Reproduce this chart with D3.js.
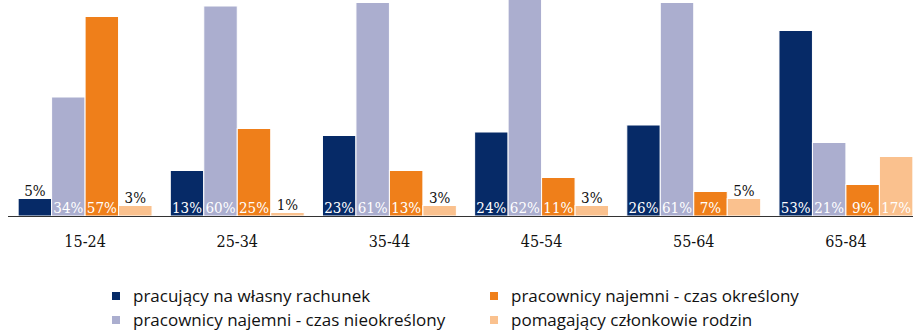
<!DOCTYPE html>
<html>
<head>
<meta charset="utf-8">
<script src="https://cdn.jsdelivr.net/npm/d3@7"></script>
<style>
  body { margin: 0; background: #fff; }
  .val { font-family: "DejaVu Serif Condensed", "DejaVu Serif", serif; font-size: 15px; }
  .cat { font-family: "DejaVu Serif Condensed", "DejaVu Serif", serif; font-size: 16px; fill: #111; }
  .leg { font-family: "Open Sans", "DejaVu Sans", sans-serif; font-size: 17px; fill: #111; }
</style>
</head>
<body>
<script>
var groups = ["15-24", "25-34", "35-44", "45-54", "55-64", "65-84"];
var seriesNames = [
  "pracujący na własny rachunek",
  "pracownicy najemni - czas nieokreślony",
  "pracownicy najemni - czas określony",
  "pomagający członkowie rodzin"
];
var colors = ["#062a67", "#abaecf", "#ef7f1a", "#fac18e"];

var selfEmployed = [5, 13, 23, 24, 26, 53];
var permanent = [34, 60, 61, 62, 61, 21];
var fixedTerm = [57, 25, 13, 11, 7, 9];
var family = [3, 1, 3, 3, 5, 17];

var values = [selfEmployed, permanent, fixedTerm, family];

var width = 913, height = 331, baseY = 216;

var svg = d3.select("body").append("svg")
  .attr("width", width)
  .attr("height", height);

var x0 = d3.scaleBand()
  .domain(groups)
  .range([9, 922])
  .paddingInner(0.12)
  .paddingOuter(0.06);

var x1 = d3.scaleBand()
  .domain(d3.range(4))
  .range([0, x0.bandwidth()]);

var y = d3.scaleLinear()
  .domain([0, 10])
  .range([baseY, baseY - 35]);

var data = [];
groups.forEach(function(g, gi) {
  values.forEach(function(s, si) {
    data.push({ group: g, s: si, value: s[gi] });
  });
});

var bars = svg.append("g");
bars.selectAll("rect")
  .data(data)
  .enter().append("rect")
  .attr("x", function(d) { return x0(d.group) + x1(d.s); })
  .attr("y", function(d) { return y(d.value); })
  .attr("width", x1.bandwidth())
  .attr("height", function(d) { return baseY - y(d.value); })
  .attr("fill", function(d) { return colors[d.s]; })
  .attr("stroke", "#fff")
  .attr("stroke-width", 1);

bars.selectAll("text")
  .data(data)
  .enter().append("text")
  .attr("class", "val")
  .attr("text-anchor", "middle")
  .attr("x", function(d) { return x0(d.group) + x1(d.s) + x1.bandwidth() / 2; })
  .attr("y", function(d) { return d.value >= 6 ? baseY - 3 : y(d.value) - 3; })
  .attr("fill", function(d) { return d.value >= 6 ? "#fff" : "#111"; })
  .text(function(d) { return d.value + "%"; });

// axis line
svg.append("line")
  .attr("x1", 8).attr("x2", width)
  .attr("y1", baseY + 0.5).attr("y2", baseY + 0.5)
  .attr("stroke", "#333").attr("stroke-width", 1.2);

svg.append("g").selectAll("text")
  .data(groups)
  .enter().append("text")
  .attr("class", "cat")
  .attr("text-anchor", "middle")
  .attr("x", function(d) { return x0(d) + x0.bandwidth() / 2; })
  .attr("y", 247)
  .text(function(d) { return d; });

// legend
var legPos = [[112, 292], [112, 316], [490, 292], [490, 316]];
var leg = svg.append("g").selectAll("g")
  .data(seriesNames)
  .enter().append("g")
  .attr("transform", function(d, i) { return "translate(" + legPos[i][0] + "," + legPos[i][1] + ")"; });
leg.append("rect")
  .attr("width", 8).attr("height", 8)
  .attr("fill", function(d, i) { return colors[i]; });
leg.append("text")
  .attr("class", "leg")
  .attr("x", 21).attr("y", 10)
  .text(function(d) { return d; });
</script>
</body>
</html>
